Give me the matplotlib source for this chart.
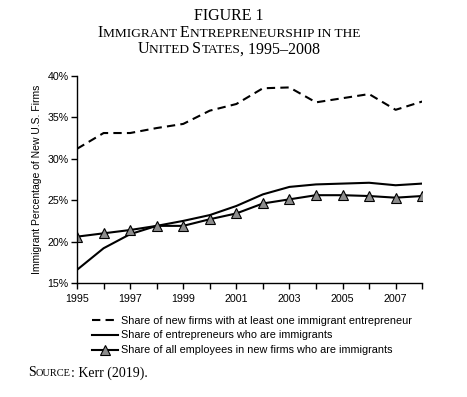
import matplotlib
matplotlib.use("Agg")
import matplotlib.pyplot as plt
import numpy as np

years = list(range(1995, 2009))
firms_with_immigrant = [31.2, 33.1, 33.1, 33.7, 34.2, 35.8, 36.6, 38.5, 38.6, 36.8, 37.3, 37.8, 35.9, 36.9]
entrepreneurs_immigrant = [16.6, 19.2, 20.9, 21.9, 22.5, 23.2, 24.3, 25.7, 26.6, 26.9, 27.0, 27.1, 26.8, 27.0]
employees_immigrant = [20.6, 21.0, 21.4, 21.9, 21.9, 22.7, 23.4, 24.6, 25.1, 25.6, 25.6, 25.5, 25.3, 25.5]
series_labels = [
    "Share of new firms with at least one immigrant entrepreneur",
    "Share of entrepreneurs who are immigrants",
    "Share of all employees in new firms who are immigrants",
]
y_ticks = [15, 20, 25, 30, 35, 40]
x_labels = [str(y) if y % 2 == 1 else "" for y in years]

sans = ["Liberation Sans", "DejaVu Sans"]
serif = ["Liberation Serif", "DejaVu Serif"]

fig = plt.figure(figsize=(4.67, 3.97), dpi=100)
ax = fig.add_axes([0.165, 0.287, 0.739, 0.522])

ax.plot(years, firms_with_immigrant, color="black", lw=1.5, ls=(0, (4, 2.5)), label=series_labels[0])
ax.plot(years, entrepreneurs_immigrant, color="black", lw=1.5, label=series_labels[1])
ax.plot(years, employees_immigrant, color="black", lw=1.5, marker="^", ms=6.5,
        mfc="#8c8c8c", mec="black", mew=0.8, label=series_labels[2])

ax.set_xlim(1995, 2008)
ax.set_ylim(15, 40)
ax.set_xticks(years)
ax.set_xticklabels(x_labels, fontsize=7.7, family=sans)
ax.set_yticks(y_ticks)
ax.set_yticklabels([f"{v}%" for v in y_ticks], fontsize=7.7, family=sans)
ax.tick_params(direction="out", length=4, width=1, pad=2)
ax.tick_params(axis="x", pad=4)
for s in ["top", "right"]:
    ax.spines[s].set_visible(False)
for s in ["left", "bottom"]:
    ax.spines[s].set_linewidth(1)
ax.set_ylabel("Immigrant Percentage of New U.S. Firms", fontsize=7.5, family=sans, labelpad=4)

leg = fig.legend(loc="upper left", bbox_to_anchor=(0.197, 0.205), frameon=False,
                 handlelength=2.4, handletextpad=0.3, labelspacing=0.45,
                 prop={"family": sans, "size": 7.8}, borderaxespad=0, borderpad=0)


def small_caps(fig, x, y, parts, ha="center"):
    # parts: list of (text, size) drawn side by side
    fig.canvas.draw()
    r = fig.canvas.get_renderer()
    objs = []
    for txt, size in parts:
        t = fig.text(0, y, txt, fontsize=size, family=serif, va="baseline")
        objs.append(t)
    widths = [t.get_window_extent(r).width / fig.bbox.width for t in objs]
    total = sum(widths)
    start = x - total / 2 if ha == "center" else x
    for t, w in zip(objs, widths):
        t.set_x(start)
        start += w


big, small = 11.5, 9.6
small_caps(fig, 0.49, 0.95, [("FIGURE 1", big)])
small_caps(fig, 0.49, 0.908, [("I", big), ("MMIGRANT ", small), ("E", big),
                              ("NTREPRENEURSHIP IN THE", small)])
small_caps(fig, 0.49, 0.866, [("U", big), ("NITED ", small), ("S", big),
                              ("TATES", small), (", 1995–2008", big)])
small_caps(fig, 0.06, 0.052, [("S", 10), ("OURCE", 7.5), (": Kerr (2019).", 10)], ha="left")

fig.savefig("out.png", dpi=100)
